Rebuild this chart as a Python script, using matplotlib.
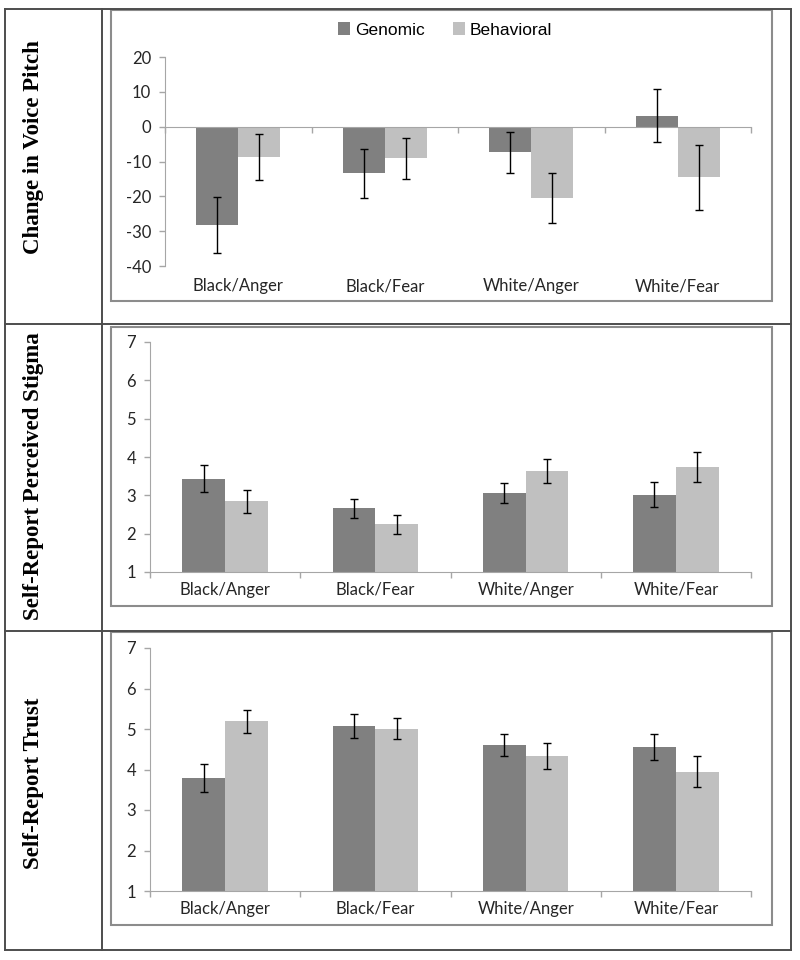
import numpy as np
from matplotlib import pyplot as plt
from matplotlib.patches import Rectangle
from matplotlib.lines import Line2D

plt.rcParams['axes.unicode_minus'] = False

# data
categories = ['Black/Anger', 'Black/Fear', 'White/Anger', 'White/Fear']
series = ['Genomic', 'Behavioral']

pitch_genomic = [-28.2, -13.4, -7.4, 3.1]
pitch_genomic_err = [8.1, 7.1, 6.0, 7.6]
pitch_behavioral = [-8.6, -9.1, -20.5, -14.5]
pitch_behavioral_err = [6.6, 5.8, 7.1, 9.3]

stigma_genomic = [3.43, 2.66, 3.06, 3.02]
stigma_genomic_err = [0.35, 0.24, 0.27, 0.32]
stigma_behavioral = [2.84, 2.24, 3.63, 3.75]
stigma_behavioral_err = [0.29, 0.24, 0.31, 0.39]

trust_genomic = [3.79, 5.08, 4.60, 4.56]
trust_genomic_err = [0.35, 0.30, 0.27, 0.32]
trust_behavioral = [5.19, 5.01, 4.33, 3.95]
trust_behavioral_err = [0.29, 0.25, 0.32, 0.39]

row_labels = ['Change in Voice Pitch', 'Self-Report Perceived Stigma', 'Self-Report Trust']

W, H = 800, 960
colors = ['#808080', '#c0c0c0']
axis_gray = '#a6a6a6'
tick_font = 'Lato'
tick_size = 12


def rect(left, top, right, bottom):
    # pixel box -> figure fraction
    return [left / W, 1 - bottom / H, (right - left) / W, (bottom - top) / H]


def fline(fig, x0, y0, x1, y1, color='#4d4d4d', lw=1.4):
    fig.add_artist(Line2D([x0 / W, x1 / W], [1 - y0 / H, 1 - y1 / H],
                          transform=fig.transFigure, color=color, lw=lw))


def chart_box(fig, left, top, right, bottom):
    fig.add_artist(Rectangle((left / W, 1 - bottom / H), (right - left) / W,
                             (bottom - top) / H, transform=fig.transFigure,
                             fill=False, edgecolor='#8c8c8c', lw=1.5))


def bar_panel(ax, gen, gen_err, beh, beh_err, ylim, yticks, zero_axis=False):
    x = np.arange(len(categories))
    w = 0.285
    ax.bar(x - w / 2, gen, w, color=colors[0], label=series[0], zorder=2)
    ax.bar(x + w / 2, beh, w, color=colors[1], label=series[1], zorder=2)
    ax.errorbar(x - w / 2, gen, yerr=gen_err, fmt='none', ecolor='black',
                elinewidth=1, capsize=3.2, capthick=1, zorder=3)
    ax.errorbar(x + w / 2, beh, yerr=beh_err, fmt='none', ecolor='black',
                elinewidth=1, capsize=3.2, capthick=1, zorder=3)
    ax.set_xlim(-0.5, len(categories) - 0.5)
    ax.set_ylim(*ylim)
    ax.set_yticks(yticks)
    for s in ['top', 'right']:
        ax.spines[s].set_visible(False)
    ax.spines['left'].set_color(axis_gray)
    ax.spines['bottom'].set_color(axis_gray)
    ax.tick_params(axis='y', colors=axis_gray, length=4, width=1, pad=6,
                   labelcolor='#262626', labelsize=tick_size)
    bounds = np.arange(len(categories) + 1) - 0.5
    if zero_axis:
        # category axis sits on zero, names stay at the bottom
        ax.spines['bottom'].set_position(('data', 0))
        ax.set_xticks(bounds)
        ax.set_xticklabels([])
        ax.tick_params(axis='x', colors=axis_gray, length=4, width=1)
        sec = ax.secondary_xaxis('bottom')
        sec.set_xticks(x)
        sec.set_xticklabels(categories)
        sec.spines['bottom'].set_visible(False)
        sec.tick_params(axis='x', length=0, pad=9, labelsize=tick_size,
                        labelcolor='#262626')
        for t in sec.get_xticklabels():
            t.set_fontfamily(tick_font)
    else:
        ax.set_xticks(x)
        ax.set_xticklabels(categories)
        ax.set_xticks(bounds, minor=True)
        ax.tick_params(axis='x', which='major', length=0, pad=7,
                       labelsize=tick_size, labelcolor='#262626')
        ax.tick_params(axis='x', which='minor', colors=axis_gray, length=4,
                       width=1)
    for t in ax.get_xticklabels() + ax.get_yticklabels():
        t.set_fontfamily(tick_font)


fig = plt.figure(figsize=(8, 9.6), dpi=100)

# table frame
left_x, div_x, right_x = 5, 102, 791
top_y, row1_y, row2_y, bottom_y = 9, 324, 631, 950
for y in [top_y, row1_y, row2_y, bottom_y]:
    fline(fig, left_x, y, right_x, y)
for x in [left_x, div_x, right_x]:
    fline(fig, x, top_y, x, bottom_y)

# chart boxes
chart_box(fig, 111, 10, 772, 301)
chart_box(fig, 111, 327, 772, 606)
chart_box(fig, 111, 632, 772, 925)

ax1 = fig.add_axes(rect(165, 57, 751, 266))
bar_panel(ax1, pitch_genomic, pitch_genomic_err, pitch_behavioral,
          pitch_behavioral_err, (-40, 20), np.arange(-40, 21, 10), zero_axis=True)
ax1.legend(loc='center', bbox_to_anchor=(445 / W, 1 - 30 / H),
           bbox_transform=fig.transFigure, ncol=2, frameon=False,
           handlelength=0.7, handleheight=0.7, handletextpad=0.3,
           columnspacing=1.6, prop={'family': 'Liberation Sans', 'size': 12.5})

ax2 = fig.add_axes(rect(150, 342, 751, 572))
bar_panel(ax2, stigma_genomic, stigma_genomic_err, stigma_behavioral,
          stigma_behavioral_err, (1, 7), np.arange(1, 8))

ax3 = fig.add_axes(rect(150, 648, 751, 891))
bar_panel(ax3, trust_genomic, trust_genomic_err, trust_behavioral,
          trust_behavioral_err, (1, 7), np.arange(1, 8))

# row titles in the left column
for label, yc in zip(row_labels, [147, 476, 783]):
    fig.text(34 / W, 1 - yc / H, label, rotation=90, ha='center', va='center',
             family='Liberation Serif', fontweight='bold', fontsize=16.5)

fig.savefig('out.png', dpi=100)
